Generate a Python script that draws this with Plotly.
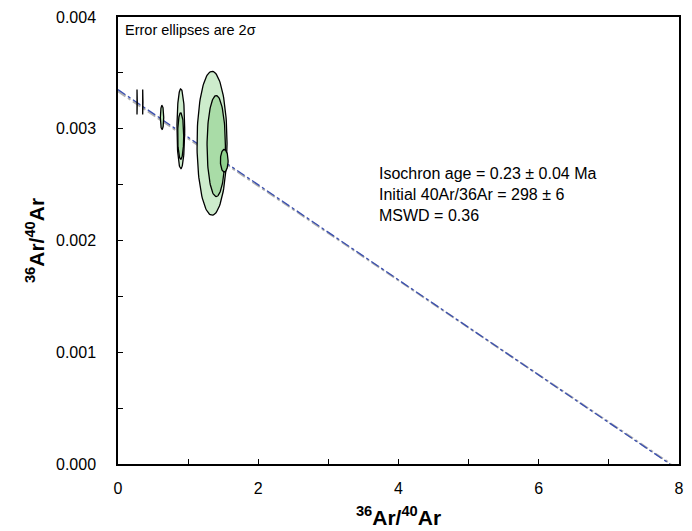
import numpy as np
import plotly.graph_objects as go

# Ellipse data (center x, center y, half-width, half-height), drawn in order
ell_x = [0.271, 0.352, 0.628, 0.896, 0.894, 1.341, 1.401, 1.515]
ell_y = [0.00324, 0.00324, 0.003101, 0.0030, 0.002935, 0.00287, 0.002845, 0.002714]
ell_rx = [0.004, 0.004, 0.024, 0.055, 0.043, 0.214, 0.131, 0.055]
ell_ry = [0.000112, 0.000112, 0.000107, 0.000357, 0.000208, 0.000644, 0.000452, 0.000101]
ell_fill = ["#b8e4b6", "#b8e4b6", "#b8e4b6", "#cdeccc", "#a6dba4",
            "#cdeccc", "#a9dca7", "#8fd18d"]

# Isochron line
y_intercept = 0.00335
x_intercept = 7.87
env_y_intercept = 0.003335
env_x_intercept = 7.885

x_ticks = [0, 2, 4, 6, 8]
y_ticks = [0.000, 0.001, 0.002, 0.003, 0.004]

fig = go.Figure()

# regression lines
fig.add_trace(go.Scatter(x=[0, env_x_intercept], y=[env_y_intercept, 0], mode="lines",
                         line=dict(color="#b0b0b0", width=2, dash="dashdot"),
                         showlegend=False, hoverinfo="skip"))
fig.add_trace(go.Scatter(x=[0, x_intercept], y=[y_intercept, 0], mode="lines",
                         line=dict(color="#3a4fb0", width=1.3, dash="dashdot"),
                         showlegend=False, hoverinfo="skip"))

t = np.linspace(0, 2 * np.pi, 120)
for cx, cy, rx, ry, col in zip(ell_x, ell_y, ell_rx, ell_ry, ell_fill):
    fig.add_trace(go.Scatter(x=cx + rx * np.cos(t), y=cy + ry * np.sin(t),
                             mode="lines", fill="toself", fillcolor=col,
                             line=dict(color="black", width=1.3),
                             showlegend=False, hoverinfo="skip"))

fig.add_annotation(x=0, y=1, xref="paper", yref="paper", xanchor="left", yanchor="top",
                   xshift=5, yshift=-3, showarrow=False,
                   text="Error ellipses are 2σ", font=dict(size=14.5, color="black"))

fig.add_annotation(x=3.69, y=0.00269, xref="x", yref="y", xanchor="left", yanchor="top",
                   showarrow=False, align="left",
                   text="Isochron age = 0.23 ± 0.04 Ma<br>Initial 40Ar/36Ar = 298 ± 6<br>MSWD = 0.36",
                   font=dict(size=16, color="black"))

fig.update_layout(
    width=692, height=531,
    margin=dict(l=118, r=13, t=17, b=67),
    paper_bgcolor="white", plot_bgcolor="white",
    font=dict(family="Liberation Sans, Arial, sans-serif", color="black", size=16),
)
fig.update_xaxes(range=[0, 8], tickvals=x_ticks, ticktext=[str(v) for v in x_ticks],
                 ticks="inside", ticklen=5, tickcolor="black", automargin=False,
                 minor=dict(dtick=1, ticks="inside", ticklen=5, tickcolor="black"),
                 showline=True, linecolor="black", linewidth=1.5, mirror=True,
                 showgrid=False, zeroline=False, ticklabelstandoff=9,
                 title=dict(text="<b><sup>36</sup>Ar/<sup>40</sup>Ar</b>", font=dict(size=21), standoff=14))
fig.update_yaxes(range=[0, 0.004], tickvals=y_ticks, ticktext=[f"{v:.3f}" for v in y_ticks],
                 ticks="inside", ticklen=5, tickcolor="black", automargin=False,
                 minor=dict(dtick=0.0005, ticks="inside", ticklen=5, tickcolor="black"),
                 showline=True, linecolor="black", linewidth=1.5, mirror=True,
                 showgrid=False, zeroline=False, ticklabelstandoff=17,
                 title=dict(text="<b><sup>36</sup>Ar/<sup>40</sup>Ar</b>", font=dict(size=21), standoff=6))

fig.write_html("out.html")
